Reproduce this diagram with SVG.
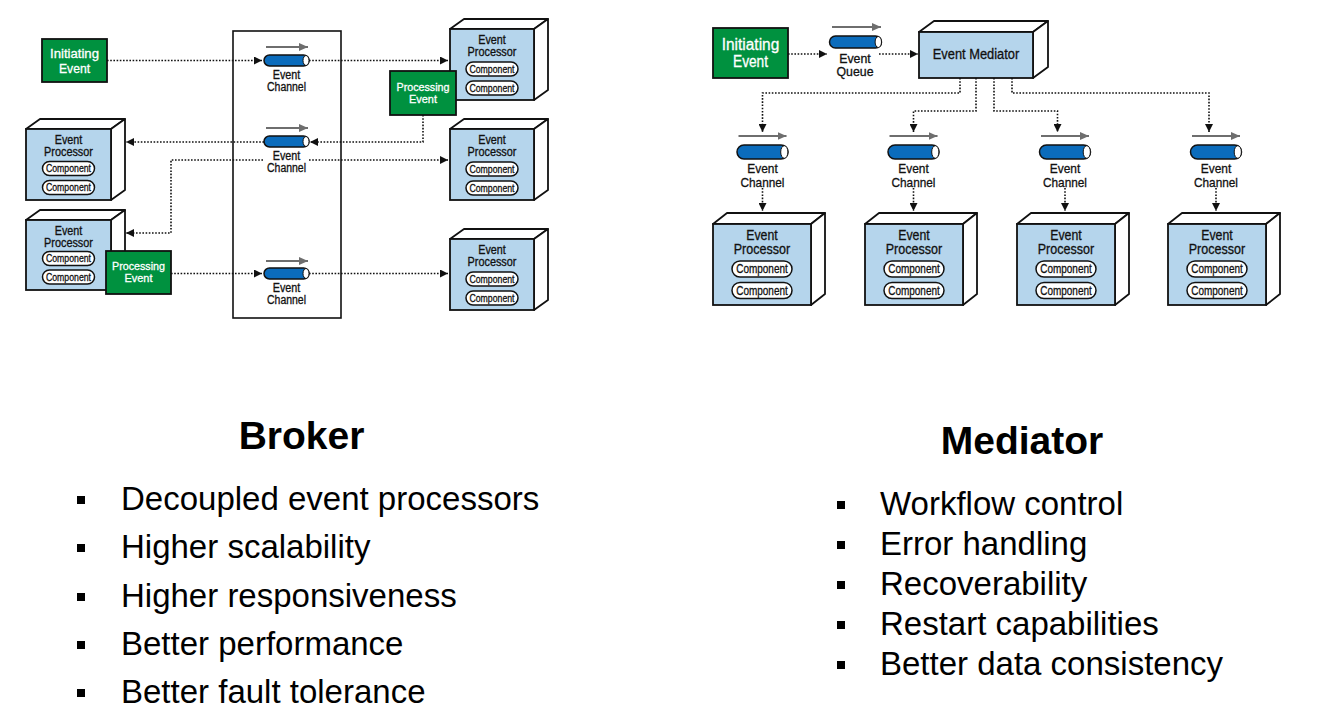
<svg xmlns="http://www.w3.org/2000/svg" width="1325" height="709" viewBox="0 0 1325 709">
<defs>
<marker id="ah" viewBox="0 0 8 8" refX="8" refY="4" markerWidth="8" markerHeight="8" markerUnits="userSpaceOnUse" orient="auto"><path d="M0,0 L8,4 L0,8 z" fill="#111"/></marker>
<marker id="gh" viewBox="0 0 9 8" refX="9" refY="4" markerWidth="9" markerHeight="8" markerUnits="userSpaceOnUse" orient="auto"><path d="M0,0 L9,4 L0,8 z" fill="#6e6e6e"/></marker>
</defs>
<style>
.lbl{font-family:"Liberation Sans Narrow","Liberation Sans",Arial,sans-serif;fill:#111;stroke:#111;stroke-width:0.3;text-anchor:middle}
.wl{fill:#fff;stroke:#fff}
.s13{font-size:13px}.s12{font-size:12px}.s115{font-size:11.5px}.s10{font-size:10.5px}.s135{font-size:13.5px}.s14{font-size:14px}.s16{font-size:16px}.s125{font-size:12.5px}
.face{fill:#b5d5ec;stroke:#111;stroke-width:1.8}
.side{fill:#fff;stroke:#111;stroke-width:1.8;stroke-linejoin:round}
.comp{fill:#fff;stroke:#111;stroke-width:1.5}
.green{fill:#00913f;stroke:#111;stroke-width:1.8}
.pipe{fill:#0b6cbc;stroke:#111;stroke-width:1.5}
.cap{fill:#fff;stroke:#111;stroke-width:1}
.garr{stroke:#6e6e6e;stroke-width:1.8;fill:none}
.dot{stroke:#111;stroke-width:1.6;stroke-dasharray:1.6 1.6;fill:none}
.title{font-family:"Liberation Sans",Arial,sans-serif;font-weight:bold;font-size:39px;text-anchor:middle;fill:#000}
.bul{font-family:"Liberation Sans",Arial,sans-serif;font-size:33px;fill:#000}
</style>
<rect width="1325" height="709" fill="#fff"/>

<!-- ============ BROKER ============ -->
<g id="broker-container"><rect x="233" y="31" width="108" height="287" fill="none" stroke="#111" stroke-width="1.6"/></g>

<g id="connectors-broker">
<path class="dot" d="M107,60.5 H262" marker-end="url(#ah)"/>
<path class="dot" d="M309,60.5 H448" marker-end="url(#ah)"/>
<path class="dot" d="M423,115 V142 H310" marker-end="url(#ah)"/>
<path class="dot" d="M264,142 H126" marker-end="url(#ah)"/>
<path class="dot" d="M263,160 H171 V233 H126" marker-end="url(#ah)"/>
<path class="dot" d="M309,160 H448" marker-end="url(#ah)"/>
<path class="dot" d="M171,273.5 H262" marker-end="url(#ah)"/>
<path class="dot" d="M309,273.5 H448" marker-end="url(#ah)"/>
</g>

<g id="b-initiating-event">
<rect class="green" x="42" y="39" width="65" height="43"/>
<text class="lbl wl s13" x="74.5" y="57.5" textLength="49" lengthAdjust="spacingAndGlyphs">Initiating</text>
<text class="lbl wl s13" x="74.5" y="73" textLength="31" lengthAdjust="spacingAndGlyphs">Event</text>
</g>

<g id="b-channel-1">
<path class="garr" d="M266,47 H308" marker-end="url(#gh)"/>
<rect class="pipe" x="264" y="55" width="45" height="11" rx="5.5"/>
<ellipse class="cap" cx="306" cy="60.5" rx="3" ry="5"/>
<text class="lbl s12" x="286.5" y="79" textLength="27.5" lengthAdjust="spacingAndGlyphs">Event</text>
<text class="lbl s12" x="286.5" y="91" textLength="39" lengthAdjust="spacingAndGlyphs">Channel</text>
</g>
<g id="b-channel-2">
<path class="garr" d="M266,128 H308" marker-end="url(#gh)"/>
<rect class="pipe" x="264" y="136" width="45" height="11" rx="5.5"/>
<ellipse class="cap" cx="306" cy="141.5" rx="3" ry="5"/>
<text class="lbl s12" x="286.5" y="160" textLength="27.5" lengthAdjust="spacingAndGlyphs">Event</text>
<text class="lbl s12" x="286.5" y="172" textLength="39" lengthAdjust="spacingAndGlyphs">Channel</text>
</g>
<g id="b-channel-3">
<path class="garr" d="M266,261 H308" marker-end="url(#gh)"/>
<rect class="pipe" x="264" y="268" width="45" height="11" rx="5.5"/>
<ellipse class="cap" cx="306" cy="273.5" rx="3" ry="5"/>
<text class="lbl s12" x="286.5" y="292" textLength="27.5" lengthAdjust="spacingAndGlyphs">Event</text>
<text class="lbl s12" x="286.5" y="304" textLength="39" lengthAdjust="spacingAndGlyphs">Channel</text>
</g>

<!-- broker processors: front w84 h71, depth 14,-10 -->
<g id="b-processor-r1">
<path class="side" d="M450,29 L464,19 L548,19 L534,29 Z"/>
<path class="side" d="M534,29 L548,19 L548,90 L534,100 Z"/>
<rect class="face" x="450" y="29" width="84" height="71"/>
<text class="lbl s12" x="492" y="44" textLength="27.5" lengthAdjust="spacingAndGlyphs">Event</text>
<text class="lbl s12" x="492" y="56" textLength="49" lengthAdjust="spacingAndGlyphs">Processor</text>
<rect class="comp" x="466" y="62" width="52" height="14" rx="7"/>
<text class="lbl s10" x="492" y="72.5" textLength="45" lengthAdjust="spacingAndGlyphs">Component</text>
<rect class="comp" x="466" y="81" width="52" height="14" rx="7"/>
<text class="lbl s10" x="492" y="91.5" textLength="45" lengthAdjust="spacingAndGlyphs">Component</text>
</g>
<g id="b-processor-r2">
<path class="side" d="M450,129 L464,119 L548,119 L534,129 Z"/>
<path class="side" d="M534,129 L548,119 L548,190 L534,200 Z"/>
<rect class="face" x="450" y="129" width="84" height="71"/>
<text class="lbl s12" x="492" y="144" textLength="27.5" lengthAdjust="spacingAndGlyphs">Event</text>
<text class="lbl s12" x="492" y="156" textLength="49" lengthAdjust="spacingAndGlyphs">Processor</text>
<rect class="comp" x="466" y="162" width="52" height="14" rx="7"/>
<text class="lbl s10" x="492" y="172.5" textLength="45" lengthAdjust="spacingAndGlyphs">Component</text>
<rect class="comp" x="466" y="181" width="52" height="14" rx="7"/>
<text class="lbl s10" x="492" y="191.5" textLength="45" lengthAdjust="spacingAndGlyphs">Component</text>
</g>
<g id="b-processor-r3">
<path class="side" d="M450,239 L464,229 L548,229 L534,239 Z"/>
<path class="side" d="M534,239 L548,229 L548,300 L534,310 Z"/>
<rect class="face" x="450" y="239" width="84" height="71"/>
<text class="lbl s12" x="492" y="254" textLength="27.5" lengthAdjust="spacingAndGlyphs">Event</text>
<text class="lbl s12" x="492" y="266" textLength="49" lengthAdjust="spacingAndGlyphs">Processor</text>
<rect class="comp" x="466" y="272" width="52" height="14" rx="7"/>
<text class="lbl s10" x="492" y="282.5" textLength="45" lengthAdjust="spacingAndGlyphs">Component</text>
<rect class="comp" x="466" y="291" width="52" height="14" rx="7"/>
<text class="lbl s10" x="492" y="301.5" textLength="45" lengthAdjust="spacingAndGlyphs">Component</text>
</g>
<g id="b-processor-l1">
<path class="side" d="M26,129 L40,119 L125,119 L111,129 Z"/>
<path class="side" d="M111,129 L125,119 L125,190 L111,200 Z"/>
<rect class="face" x="26" y="129" width="85" height="71"/>
<text class="lbl s12" x="68.5" y="143.5" textLength="27.5" lengthAdjust="spacingAndGlyphs">Event</text>
<text class="lbl s12" x="68.5" y="155.5" textLength="49" lengthAdjust="spacingAndGlyphs">Processor</text>
<rect class="comp" x="42.5" y="161.5" width="52" height="14" rx="7"/>
<text class="lbl s10" x="68.5" y="172" textLength="45" lengthAdjust="spacingAndGlyphs">Component</text>
<rect class="comp" x="42.5" y="180.5" width="52" height="14" rx="7"/>
<text class="lbl s10" x="68.5" y="191" textLength="45" lengthAdjust="spacingAndGlyphs">Component</text>
</g>
<g id="b-processor-l2">
<path class="side" d="M26,220 L40,210 L125,210 L111,220 Z"/>
<path class="side" d="M111,220 L125,210 L125,280 L111,290 Z"/>
<rect class="face" x="26" y="220" width="85" height="70"/>
<text class="lbl s12" x="68.5" y="234.5" textLength="27.5" lengthAdjust="spacingAndGlyphs">Event</text>
<text class="lbl s12" x="68.5" y="246.5" textLength="49" lengthAdjust="spacingAndGlyphs">Processor</text>
<rect class="comp" x="42.5" y="251.5" width="52" height="14" rx="7"/>
<text class="lbl s10" x="68.5" y="262" textLength="45" lengthAdjust="spacingAndGlyphs">Component</text>
<rect class="comp" x="42.5" y="270" width="52" height="14" rx="7"/>
<text class="lbl s10" x="68.5" y="280.5" textLength="45" lengthAdjust="spacingAndGlyphs">Component</text>
</g>

<g id="b-processing-event-1">
<rect class="green" x="390" y="71" width="66" height="44"/>
<text class="lbl wl s115" x="423" y="91" textLength="53" lengthAdjust="spacingAndGlyphs">Processing</text>
<text class="lbl wl s115" x="423" y="102.5" textLength="28" lengthAdjust="spacingAndGlyphs">Event</text>
</g>
<g id="b-processing-event-2">
<rect class="green" x="106" y="251" width="65" height="43"/>
<text class="lbl wl s115" x="138.5" y="270" textLength="53" lengthAdjust="spacingAndGlyphs">Processing</text>
<text class="lbl wl s115" x="138.5" y="281.5" textLength="28" lengthAdjust="spacingAndGlyphs">Event</text>
</g>

<!-- ============ MEDIATOR ============ -->
<g id="connectors-mediator">
<path class="dot" d="M788,54 H827" marker-end="url(#ah)"/>
<path class="dot" d="M879,54 H918" marker-end="url(#ah)"/>
<path class="dot" d="M960,78 V93 H762.5 V132" marker-end="url(#ah)"/>
<path class="dot" d="M976,78 V111 H913.5 V132" marker-end="url(#ah)"/>
<path class="dot" d="M994,78 V111 H1057.5 V132" marker-end="url(#ah)"/>
<path class="dot" d="M1012,78 V93 H1209 V132" marker-end="url(#ah)"/>
<path class="dot" d="M762.5,188 V211" marker-end="url(#ah)"/>
<path class="dot" d="M913.5,188 V211" marker-end="url(#ah)"/>
<path class="dot" d="M1065,188 V211" marker-end="url(#ah)"/>
<path class="dot" d="M1216,188 V211" marker-end="url(#ah)"/>
</g>

<g id="m-initiating-event">
<rect class="green" x="713" y="28" width="75" height="50"/>
<text class="lbl wl s16" x="750.5" y="50" textLength="57.5" lengthAdjust="spacingAndGlyphs">Initiating</text>
<text class="lbl wl s16" x="750.5" y="66.5" textLength="35" lengthAdjust="spacingAndGlyphs">Event</text>
</g>

<g id="m-event-queue">
<path class="garr" d="M832,27 H881" marker-end="url(#gh)"/>
<rect class="pipe" x="829.5" y="36" width="52" height="12" rx="6"/>
<ellipse class="cap" cx="878.3" cy="42" rx="3.2" ry="5.5"/>
<text class="lbl s13" x="855" y="62.5" textLength="31.5" lengthAdjust="spacingAndGlyphs">Event</text>
<text class="lbl s13" x="855" y="75.5" textLength="37" lengthAdjust="spacingAndGlyphs">Queue</text>
</g>

<g id="m-event-mediator">
<path class="side" d="M919,32 L934,21 L1048,21 L1033,32 Z"/>
<path class="side" d="M1033,32 L1048,21 L1048,67 L1033,78 Z"/>
<rect class="face" x="919" y="32" width="114" height="46"/>
<text class="lbl s14" x="976" y="59" textLength="86.5" lengthAdjust="spacingAndGlyphs">Event Mediator</text>
</g>

<g id="m-channel-1">
<path class="garr" d="M738.5,136 H786.5" marker-end="url(#gh)"/>
<rect class="pipe" x="737" y="145" width="51" height="14" rx="7"/>
<ellipse class="cap" cx="784.3" cy="152" rx="3.6" ry="6.3"/>
<text class="lbl s135" x="762.5" y="173" textLength="30.5" lengthAdjust="spacingAndGlyphs">Event</text>
<text class="lbl s135" x="762.5" y="186.5" textLength="44" lengthAdjust="spacingAndGlyphs">Channel</text>
</g>
<g id="m-channel-2">
<path class="garr" d="M889.5,136 H937.5" marker-end="url(#gh)"/>
<rect class="pipe" x="888" y="145" width="51" height="14" rx="7"/>
<ellipse class="cap" cx="935.3" cy="152" rx="3.6" ry="6.3"/>
<text class="lbl s135" x="913.5" y="173" textLength="30.5" lengthAdjust="spacingAndGlyphs">Event</text>
<text class="lbl s135" x="913.5" y="186.5" textLength="44" lengthAdjust="spacingAndGlyphs">Channel</text>
</g>
<g id="m-channel-3">
<path class="garr" d="M1041,136 H1089" marker-end="url(#gh)"/>
<rect class="pipe" x="1039.5" y="145" width="51" height="14" rx="7"/>
<ellipse class="cap" cx="1086.8" cy="152" rx="3.6" ry="6.3"/>
<text class="lbl s135" x="1065" y="173" textLength="30.5" lengthAdjust="spacingAndGlyphs">Event</text>
<text class="lbl s135" x="1065" y="186.5" textLength="44" lengthAdjust="spacingAndGlyphs">Channel</text>
</g>
<g id="m-channel-4">
<path class="garr" d="M1192,136 H1240" marker-end="url(#gh)"/>
<rect class="pipe" x="1190.5" y="145" width="51" height="14" rx="7"/>
<ellipse class="cap" cx="1237.8" cy="152" rx="3.6" ry="6.3"/>
<text class="lbl s135" x="1216" y="173" textLength="30.5" lengthAdjust="spacingAndGlyphs">Event</text>
<text class="lbl s135" x="1216" y="186.5" textLength="44" lengthAdjust="spacingAndGlyphs">Channel</text>
</g>

<!-- mediator processors: front w98 h81, depth 14,-11 -->
<g id="m-processor-1">
<path class="side" d="M713,224 L727,213 L825,213 L811,224 Z"/>
<path class="side" d="M811,224 L825,213 L825,294 L811,305 Z"/>
<rect class="face" x="713" y="224" width="98" height="81"/>
<text class="lbl s14" x="762" y="240" textLength="31.5" lengthAdjust="spacingAndGlyphs">Event</text>
<text class="lbl s14" x="762" y="254" textLength="56.5" lengthAdjust="spacingAndGlyphs">Processor</text>
<rect class="comp" x="732" y="261" width="60" height="16" rx="8"/>
<text class="lbl s125" x="762" y="273" textLength="51.5" lengthAdjust="spacingAndGlyphs">Component</text>
<rect class="comp" x="732" y="282.5" width="60" height="16" rx="8"/>
<text class="lbl s125" x="762" y="294.5" textLength="51.5" lengthAdjust="spacingAndGlyphs">Component</text>
</g>
<g id="m-processor-2">
<path class="side" d="M865,224 L879,213 L977,213 L963,224 Z"/>
<path class="side" d="M963,224 L977,213 L977,294 L963,305 Z"/>
<rect class="face" x="865" y="224" width="98" height="81"/>
<text class="lbl s14" x="914" y="240" textLength="31.5" lengthAdjust="spacingAndGlyphs">Event</text>
<text class="lbl s14" x="914" y="254" textLength="56.5" lengthAdjust="spacingAndGlyphs">Processor</text>
<rect class="comp" x="884" y="261" width="60" height="16" rx="8"/>
<text class="lbl s125" x="914" y="273" textLength="51.5" lengthAdjust="spacingAndGlyphs">Component</text>
<rect class="comp" x="884" y="282.5" width="60" height="16" rx="8"/>
<text class="lbl s125" x="914" y="294.5" textLength="51.5" lengthAdjust="spacingAndGlyphs">Component</text>
</g>
<g id="m-processor-3">
<path class="side" d="M1017,224 L1031,213 L1129,213 L1115,224 Z"/>
<path class="side" d="M1115,224 L1129,213 L1129,294 L1115,305 Z"/>
<rect class="face" x="1017" y="224" width="98" height="81"/>
<text class="lbl s14" x="1066" y="240" textLength="31.5" lengthAdjust="spacingAndGlyphs">Event</text>
<text class="lbl s14" x="1066" y="254" textLength="56.5" lengthAdjust="spacingAndGlyphs">Processor</text>
<rect class="comp" x="1036" y="261" width="60" height="16" rx="8"/>
<text class="lbl s125" x="1066" y="273" textLength="51.5" lengthAdjust="spacingAndGlyphs">Component</text>
<rect class="comp" x="1036" y="282.5" width="60" height="16" rx="8"/>
<text class="lbl s125" x="1066" y="294.5" textLength="51.5" lengthAdjust="spacingAndGlyphs">Component</text>
</g>
<g id="m-processor-4">
<path class="side" d="M1168,224 L1182,213 L1280,213 L1266,224 Z"/>
<path class="side" d="M1266,224 L1280,213 L1280,294 L1266,305 Z"/>
<rect class="face" x="1168" y="224" width="98" height="81"/>
<text class="lbl s14" x="1217" y="240" textLength="31.5" lengthAdjust="spacingAndGlyphs">Event</text>
<text class="lbl s14" x="1217" y="254" textLength="56.5" lengthAdjust="spacingAndGlyphs">Processor</text>
<rect class="comp" x="1187" y="261" width="60" height="16" rx="8"/>
<text class="lbl s125" x="1217" y="273" textLength="51.5" lengthAdjust="spacingAndGlyphs">Component</text>
<rect class="comp" x="1187" y="282.5" width="60" height="16" rx="8"/>
<text class="lbl s125" x="1217" y="294.5" textLength="51.5" lengthAdjust="spacingAndGlyphs">Component</text>
</g>

<!-- ============ TEXT LISTS ============ -->
<g id="broker-list">
<text class="title" x="301.5" y="449">Broker</text>
<rect x="77" y="496" width="8" height="8" fill="#000"/>
<text class="bul" x="121" y="510">Decoupled event processors</text>
<rect x="77" y="544" width="8" height="8" fill="#000"/>
<text class="bul" x="121" y="558">Higher scalability</text>
<rect x="77" y="593" width="8" height="8" fill="#000"/>
<text class="bul" x="121" y="607">Higher responsiveness</text>
<rect x="77" y="641" width="8" height="8" fill="#000"/>
<text class="bul" x="121" y="655">Better performance</text>
<rect x="77" y="689" width="8" height="8" fill="#000"/>
<text class="bul" x="121" y="703">Better fault tolerance</text>
</g>
<g id="mediator-list">
<text class="title" x="1022" y="454">Mediator</text>
<rect x="837" y="501" width="8" height="8" fill="#000"/>
<text class="bul" x="880" y="515">Workflow control</text>
<rect x="837" y="541" width="8" height="8" fill="#000"/>
<text class="bul" x="880" y="555">Error handling</text>
<rect x="837" y="581" width="8" height="8" fill="#000"/>
<text class="bul" x="880" y="595">Recoverability</text>
<rect x="837" y="621" width="8" height="8" fill="#000"/>
<text class="bul" x="880" y="635">Restart capabilities</text>
<rect x="837" y="661" width="8" height="8" fill="#000"/>
<text class="bul" x="880" y="675">Better data consistency</text>
</g>
</svg>
